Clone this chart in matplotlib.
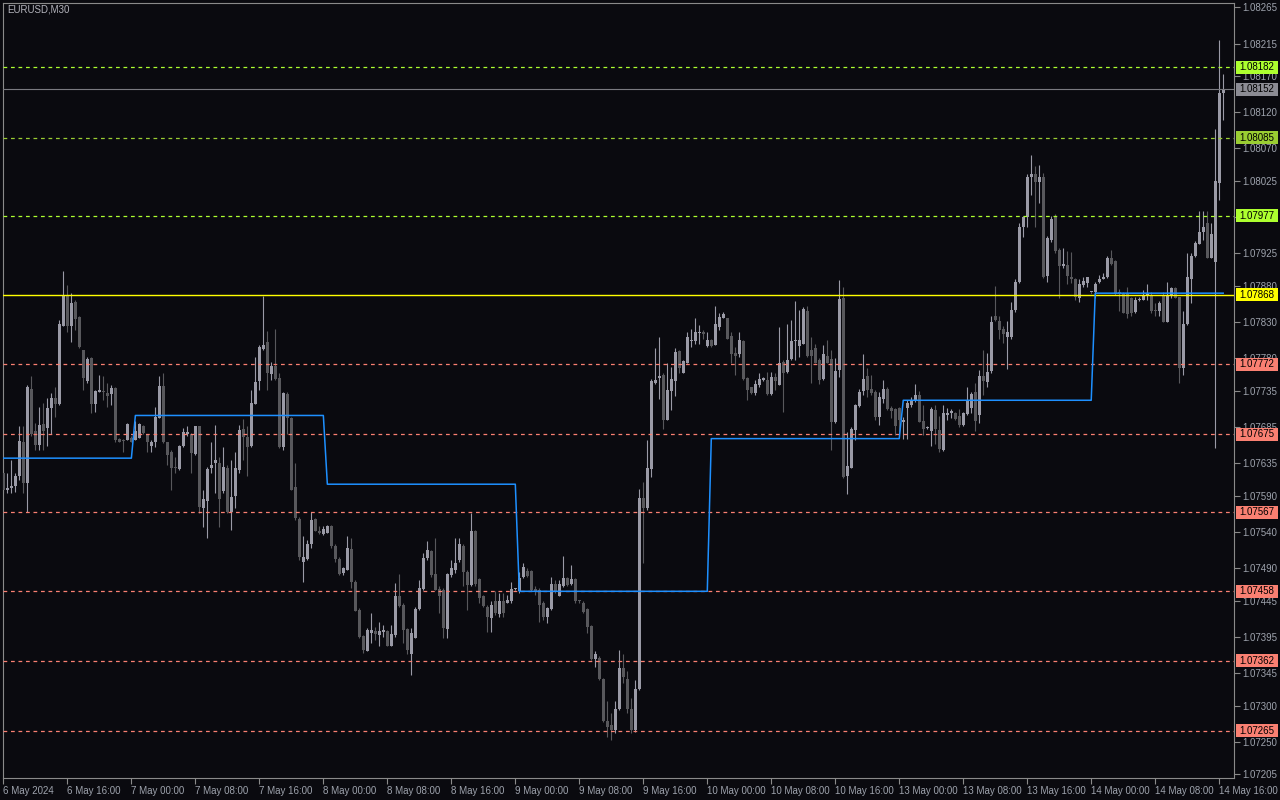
import numpy as np
import matplotlib
matplotlib.use('Agg')
import matplotlib.pyplot as plt
from matplotlib.patches import Rectangle
from matplotlib.transforms import blended_transform_factory

symbol = 'EURUSD,M30'

# M30 bars from 6 May 2024 08:00 to 14 May 2024 16:30 (prices)
opens = [
    1.07621, 1.07598, 1.07601, 1.07603, 1.07617, 1.07665, 1.07608, 1.07738, 1.07679, 1.07660,
    1.07689, 1.07684, 1.07711, 1.07725, 1.07717, 1.07824, 1.07867, 1.07825, 1.07858, 1.07837,
    1.07792, 1.07749, 1.07780, 1.07717, 1.07734, 1.07735, 1.07732, 1.07730, 1.07739, 1.07669,
    1.07667, 1.07667, 1.07670, 1.07667, 1.07670, 1.07687, 1.07676, 1.07659, 1.07664, 1.07698,
    1.07742, 1.07664, 1.07650, 1.07630, 1.07627, 1.07659, 1.07675, 1.07676, 1.07648, 1.07686,
    1.07573, 1.07583, 1.07629, 1.07635, 1.07635, 1.07597, 1.07629, 1.07568, 1.07590, 1.07625,
    1.07682, 1.07671, 1.07659, 1.07717, 1.07749, 1.07793, 1.07803, 1.07758, 1.07770, 1.07753,
    1.07657, 1.07731, 1.07698, 1.07602, 1.07558, 1.07499, 1.07503, 1.07524, 1.07558, 1.07542,
    1.07537, 1.07539, 1.07548, 1.07521, 1.07503, 1.07483, 1.07488, 1.07517, 1.07471, 1.07432,
    1.07396, 1.07376, 1.07401, 1.07403, 1.07398, 1.07402, 1.07403, 1.07383, 1.07398, 1.07451,
    1.07439, 1.07406, 1.07372, 1.07394, 1.07434, 1.07461, 1.07504, 1.07514, 1.07482, 1.07461,
    1.07460, 1.07406, 1.07481, 1.07487, 1.07501, 1.07520, 1.07484, 1.07467, 1.07541, 1.07475,
    1.07451, 1.07436, 1.07421, 1.07444, 1.07427, 1.07444, 1.07442, 1.07444, 1.07461, 1.07458,
    1.07478, 1.07486, 1.07486, 1.07461, 1.07460, 1.07442, 1.07423, 1.07434, 1.07468, 1.07452,
    1.07465, 1.07476, 1.07468, 1.07475, 1.07445, 1.07442, 1.07433, 1.07410, 1.07365, 1.07366,
    1.07337, 1.07279, 1.07273, 1.07266, 1.07295, 1.07352, 1.07337, 1.07295, 1.07266, 1.07323,
    1.07587, 1.07573, 1.07627, 1.07746, 1.07753, 1.07757, 1.07695, 1.07735, 1.07748, 1.07790,
    1.07760, 1.07774, 1.07804, 1.07804, 1.07815, 1.07817, 1.07797, 1.07805, 1.07798, 1.07823,
    1.07836, 1.07835, 1.07811, 1.07788, 1.07786, 1.07804, 1.07753, 1.07740, 1.07732, 1.07743,
    1.07750, 1.07750, 1.07730, 1.07754, 1.07743, 1.07775, 1.07761, 1.07779, 1.07804, 1.07797,
    1.07800, 1.07845, 1.07792, 1.07794, 1.07777, 1.07751, 1.07783, 1.07779, 1.07692, 1.07764,
    1.07864, 1.07618, 1.07629, 1.07681, 1.07714, 1.07735, 1.07755, 1.07737, 1.07733, 1.07699,
    1.07724, 1.07738, 1.07711, 1.07710, 1.07711, 1.07692, 1.07711, 1.07715, 1.07721, 1.07729,
    1.07693, 1.07683, 1.07680, 1.07708, 1.07681, 1.07653, 1.07702, 1.07704, 1.07705, 1.07700,
    1.07688, 1.07703, 1.07712, 1.07734, 1.07702, 1.07756, 1.07747, 1.07762, 1.07839, 1.07832,
    1.07821, 1.07809, 1.07809, 1.07847, 1.07885, 1.07961, 1.07975, 1.08030, 1.08035, 1.08023,
    1.08031, 1.07894, 1.07944, 1.07975, 1.07930, 1.07907, 1.07909, 1.07893, 1.07889, 1.07864,
    1.07881, 1.07884, 1.07871, 1.07871, 1.07885, 1.07889, 1.07892, 1.07919, 1.07915, 1.07872,
    1.07869, 1.07869, 1.07863, 1.07844, 1.07860, 1.07861, 1.07867, 1.07868, 1.07847, 1.07846,
    1.07868, 1.07830, 1.07868, 1.07877, 1.07865, 1.07767, 1.07828, 1.07890, 1.07921, 1.07938,
    1.07955, 1.07967, 1.07919, 1.07913, 1.08022, 1.08147,
]
highs = [
    1.07640, 1.07621, 1.07640, 1.07621, 1.07687, 1.07687, 1.07743, 1.07755, 1.07690, 1.07713,
    1.07718, 1.07725, 1.07732, 1.07741, 1.07833, 1.07901, 1.07881, 1.07870, 1.07861, 1.07839,
    1.07792, 1.07782, 1.07782, 1.07736, 1.07757, 1.07755, 1.07746, 1.07743, 1.07741, 1.07670,
    1.07668, 1.07690, 1.07672, 1.07693, 1.07690, 1.07688, 1.07676, 1.07667, 1.07713, 1.07755,
    1.07759, 1.07664, 1.07653, 1.07644, 1.07660, 1.07683, 1.07686, 1.07677, 1.07687, 1.07687,
    1.07598, 1.07630, 1.07665, 1.07688, 1.07644, 1.07658, 1.07633, 1.07640, 1.07651, 1.07688,
    1.07696, 1.07686, 1.07736, 1.07782, 1.07799, 1.07866, 1.07818, 1.07775, 1.07821, 1.07759,
    1.07734, 1.07734, 1.07699, 1.07635, 1.07560, 1.07534, 1.07529, 1.07568, 1.07559, 1.07548,
    1.07548, 1.07550, 1.07550, 1.07524, 1.07505, 1.07492, 1.07534, 1.07531, 1.07474, 1.07435,
    1.07398, 1.07407, 1.07428, 1.07409, 1.07416, 1.07412, 1.07405, 1.07412, 1.07469, 1.07482,
    1.07442, 1.07407, 1.07407, 1.07437, 1.07474, 1.07511, 1.07527, 1.07515, 1.07531, 1.07465,
    1.07462, 1.07483, 1.07501, 1.07531, 1.07531, 1.07524, 1.07488, 1.07566, 1.07543, 1.07476,
    1.07453, 1.07439, 1.07444, 1.07458, 1.07455, 1.07455, 1.07453, 1.07471, 1.07463, 1.07485,
    1.07497, 1.07490, 1.07488, 1.07465, 1.07462, 1.07444, 1.07437, 1.07478, 1.07474, 1.07474,
    1.07507, 1.07478, 1.07495, 1.07476, 1.07446, 1.07444, 1.07435, 1.07412, 1.07375, 1.07368,
    1.07338, 1.07306, 1.07290, 1.07307, 1.07377, 1.07372, 1.07348, 1.07310, 1.07336, 1.07600,
    1.07609, 1.07667, 1.07752, 1.07794, 1.07810, 1.07759, 1.07773, 1.07768, 1.07794, 1.07791,
    1.07777, 1.07817, 1.07820, 1.07835, 1.07826, 1.07819, 1.07817, 1.07806, 1.07852, 1.07842,
    1.07844, 1.07836, 1.07817, 1.07796, 1.07817, 1.07805, 1.07754, 1.07741, 1.07750, 1.07759,
    1.07754, 1.07761, 1.07761, 1.07759, 1.07823, 1.07777, 1.07828, 1.07833, 1.07859, 1.07847,
    1.07851, 1.07852, 1.07810, 1.07800, 1.07780, 1.07798, 1.07805, 1.07791, 1.07780, 1.07888,
    1.07879, 1.07678, 1.07685, 1.07717, 1.07737, 1.07786, 1.07766, 1.07757, 1.07736, 1.07734,
    1.07750, 1.07741, 1.07714, 1.07711, 1.07713, 1.07699, 1.07722, 1.07727, 1.07744, 1.07735,
    1.07715, 1.07686, 1.07713, 1.07715, 1.07700, 1.07715, 1.07711, 1.07710, 1.07706, 1.07710,
    1.07706, 1.07740, 1.07733, 1.07746, 1.07764, 1.07792, 1.07787, 1.07838, 1.07880, 1.07838,
    1.07824, 1.07831, 1.07858, 1.07889, 1.07967, 1.07976, 1.08035, 1.08061, 1.08046, 1.08047,
    1.08036, 1.07949, 1.07976, 1.07980, 1.07932, 1.07932, 1.07928, 1.07927, 1.07891, 1.07889,
    1.07892, 1.07893, 1.07872, 1.07886, 1.07895, 1.07898, 1.07922, 1.07929, 1.07916, 1.07876,
    1.07872, 1.07878, 1.07865, 1.07865, 1.07865, 1.07875, 1.07882, 1.07872, 1.07856, 1.07859,
    1.07872, 1.07885, 1.07879, 1.07879, 1.07865, 1.07846, 1.07925, 1.07925, 1.07942, 1.07983,
    1.07983, 1.07983, 1.07967, 1.08097, 1.08220, 1.08173,
]
lows = [
    1.07594, 1.07594, 1.07594, 1.07595, 1.07612, 1.07594, 1.07568, 1.07672, 1.07653, 1.07653,
    1.07653, 1.07659, 1.07676, 1.07699, 1.07715, 1.07824, 1.07817, 1.07803, 1.07819, 1.07794,
    1.07736, 1.07746, 1.07704, 1.07706, 1.07733, 1.07723, 1.07713, 1.07716, 1.07665, 1.07664,
    1.07651, 1.07667, 1.07664, 1.07667, 1.07670, 1.07676, 1.07651, 1.07651, 1.07658, 1.07697,
    1.07663, 1.07633, 1.07598, 1.07621, 1.07626, 1.07658, 1.07672, 1.07621, 1.07646, 1.07566,
    1.07547, 1.07531, 1.07621, 1.07594, 1.07547, 1.07594, 1.07566, 1.07543, 1.07573, 1.07621,
    1.07640, 1.07617, 1.07658, 1.07717, 1.07736, 1.07792, 1.07736, 1.07750, 1.07750, 1.07656,
    1.07653, 1.07676, 1.07598, 1.07557, 1.07501, 1.07471, 1.07501, 1.07518, 1.07541, 1.07537,
    1.07536, 1.07538, 1.07518, 1.07499, 1.07481, 1.07481, 1.07487, 1.07462, 1.07431, 1.07393,
    1.07373, 1.07375, 1.07386, 1.07391, 1.07382, 1.07395, 1.07382, 1.07382, 1.07395, 1.07437,
    1.07386, 1.07372, 1.07342, 1.07393, 1.07432, 1.07460, 1.07501, 1.07478, 1.07460, 1.07428,
    1.07393, 1.07393, 1.07478, 1.07483, 1.07499, 1.07465, 1.07432, 1.07465, 1.07465, 1.07442,
    1.07437, 1.07402, 1.07402, 1.07425, 1.07423, 1.07423, 1.07442, 1.07442, 1.07460, 1.07455,
    1.07477, 1.07478, 1.07459, 1.07453, 1.07416, 1.07418, 1.07414, 1.07432, 1.07455, 1.07451,
    1.07464, 1.07465, 1.07467, 1.07442, 1.07442, 1.07428, 1.07400, 1.07363, 1.07354, 1.07336,
    1.07278, 1.07257, 1.07253, 1.07262, 1.07294, 1.07331, 1.07290, 1.07262, 1.07264, 1.07322,
    1.07497, 1.07570, 1.07616, 1.07745, 1.07724, 1.07682, 1.07695, 1.07708, 1.07728, 1.07759,
    1.07759, 1.07773, 1.07796, 1.07800, 1.07800, 1.07807, 1.07796, 1.07796, 1.07798, 1.07819,
    1.07835, 1.07806, 1.07773, 1.07757, 1.07782, 1.07750, 1.07722, 1.07731, 1.07729, 1.07741,
    1.07749, 1.07729, 1.07729, 1.07736, 1.07743, 1.07706, 1.07759, 1.07777, 1.07777, 1.07782,
    1.07800, 1.07782, 1.07746, 1.07773, 1.07745, 1.07750, 1.07773, 1.07653, 1.07690, 1.07754,
    1.07614, 1.07593, 1.07628, 1.07667, 1.07713, 1.07729, 1.07727, 1.07729, 1.07695, 1.07688,
    1.07718, 1.07708, 1.07697, 1.07674, 1.07678, 1.07669, 1.07669, 1.07713, 1.07720, 1.07692,
    1.07674, 1.07682, 1.07659, 1.07662, 1.07651, 1.07652, 1.07695, 1.07697, 1.07695, 1.07685,
    1.07686, 1.07702, 1.07704, 1.07679, 1.07690, 1.07729, 1.07741, 1.07760, 1.07831, 1.07806,
    1.07801, 1.07765, 1.07806, 1.07844, 1.07884, 1.07948, 1.07961, 1.08006, 1.07962, 1.07995,
    1.07891, 1.07885, 1.07941, 1.07925, 1.07863, 1.07905, 1.07882, 1.07884, 1.07860, 1.07858,
    1.07879, 1.07879, 1.07870, 1.07863, 1.07884, 1.07889, 1.07891, 1.07909, 1.07868, 1.07845,
    1.07842, 1.07835, 1.07838, 1.07842, 1.07859, 1.07860, 1.07861, 1.07843, 1.07838, 1.07838,
    1.07830, 1.07830, 1.07863, 1.07863, 1.07746, 1.07757, 1.07826, 1.07856, 1.07920, 1.07938,
    1.07944, 1.07918, 1.07918, 1.07656, 1.07999, 1.08110,
]
closes = [
    1.07598, 1.07601, 1.07604, 1.07617, 1.07666, 1.07608, 1.07741, 1.07676, 1.07660, 1.07688,
    1.07679, 1.07712, 1.07725, 1.07717, 1.07828, 1.07867, 1.07824, 1.07857, 1.07834, 1.07795,
    1.07753, 1.07779, 1.07717, 1.07735, 1.07736, 1.07733, 1.07728, 1.07739, 1.07667, 1.07665,
    1.07666, 1.07689, 1.07665, 1.07679, 1.07689, 1.07677, 1.07664, 1.07664, 1.07699, 1.07742,
    1.07664, 1.07646, 1.07628, 1.07629, 1.07659, 1.07678, 1.07678, 1.07649, 1.07686, 1.07575,
    1.07586, 1.07627, 1.07632, 1.07640, 1.07586, 1.07630, 1.07568, 1.07588, 1.07628, 1.07681,
    1.07671, 1.07658, 1.07718, 1.07747, 1.07795, 1.07799, 1.07760, 1.07770, 1.07752, 1.07657,
    1.07732, 1.07698, 1.07598, 1.07559, 1.07506, 1.07506, 1.07523, 1.07557, 1.07542, 1.07539,
    1.07544, 1.07548, 1.07521, 1.07503, 1.07482, 1.07490, 1.07518, 1.07471, 1.07431, 1.07395,
    1.07377, 1.07405, 1.07404, 1.07399, 1.07403, 1.07405, 1.07383, 1.07399, 1.07451, 1.07438,
    1.07405, 1.07377, 1.07400, 1.07434, 1.07463, 1.07504, 1.07515, 1.07481, 1.07460, 1.07452,
    1.07407, 1.07482, 1.07490, 1.07497, 1.07523, 1.07484, 1.07467, 1.07541, 1.07468, 1.07449,
    1.07438, 1.07422, 1.07439, 1.07428, 1.07444, 1.07428, 1.07446, 1.07461, 1.07462, 1.07476,
    1.07491, 1.07479, 1.07460, 1.07459, 1.07439, 1.07422, 1.07435, 1.07468, 1.07458, 1.07468,
    1.07476, 1.07467, 1.07475, 1.07444, 1.07444, 1.07429, 1.07409, 1.07365, 1.07372, 1.07337,
    1.07279, 1.07271, 1.07266, 1.07296, 1.07352, 1.07339, 1.07295, 1.07266, 1.07323, 1.07587,
    1.07573, 1.07628, 1.07748, 1.07750, 1.07756, 1.07695, 1.07736, 1.07751, 1.07789, 1.07766,
    1.07776, 1.07809, 1.07805, 1.07817, 1.07817, 1.07813, 1.07805, 1.07797, 1.07827, 1.07837,
    1.07841, 1.07807, 1.07786, 1.07783, 1.07805, 1.07752, 1.07736, 1.07732, 1.07744, 1.07751,
    1.07753, 1.07730, 1.07754, 1.07748, 1.07773, 1.07760, 1.07777, 1.07804, 1.07805, 1.07805,
    1.07848, 1.07783, 1.07783, 1.07774, 1.07750, 1.07786, 1.07774, 1.07692, 1.07762, 1.07862,
    1.07616, 1.07631, 1.07682, 1.07715, 1.07734, 1.07751, 1.07736, 1.07732, 1.07699, 1.07727,
    1.07737, 1.07710, 1.07707, 1.07687, 1.07695, 1.07695, 1.07718, 1.07721, 1.07729, 1.07692,
    1.07682, 1.07685, 1.07710, 1.07682, 1.07654, 1.07704, 1.07705, 1.07707, 1.07696, 1.07688,
    1.07705, 1.07723, 1.07730, 1.07693, 1.07756, 1.07748, 1.07761, 1.07830, 1.07833, 1.07819,
    1.07814, 1.07817, 1.07847, 1.07886, 1.07961, 1.07975, 1.08030, 1.08034, 1.08024, 1.08031,
    1.07893, 1.07946, 1.07973, 1.07928, 1.07907, 1.07911, 1.07894, 1.07889, 1.07865, 1.07882,
    1.07887, 1.07892, 1.07872, 1.07883, 1.07890, 1.07892, 1.07919, 1.07911, 1.07869, 1.07869,
    1.07843, 1.07841, 1.07842, 1.07860, 1.07861, 1.07867, 1.07869, 1.07845, 1.07846, 1.07857,
    1.07830, 1.07867, 1.07877, 1.07864, 1.07766, 1.07828, 1.07893, 1.07922, 1.07940, 1.07955,
    1.07961, 1.07918, 1.07952, 1.08025, 1.08147, 1.08152,
]

time_labels = ['6 May 2024', '6 May 16:00', '7 May 00:00', '7 May 08:00', '7 May 16:00',
               '8 May 00:00', '8 May 08:00', '8 May 16:00', '9 May 00:00', '9 May 08:00',
               '9 May 16:00', '10 May 00:00', '10 May 08:00', '10 May 16:00', '13 May 00:00',
               '13 May 08:00', '13 May 16:00', '14 May 00:00', '14 May 08:00', '14 May 16:00']
bars_per_label = 16

price_ticks = [1.08265, 1.08215, 1.08170, 1.08120, 1.08070, 1.08025, 1.07975, 1.07925,
               1.07880, 1.07830, 1.07780, 1.07735, 1.07685, 1.07635, 1.07590, 1.07540,
               1.07490, 1.07445, 1.07395, 1.07345, 1.07300, 1.07250, 1.07205]

# daily level (blue step line): first bar index of each day and its level
day_starts = [0, 32, 80, 128, 176, 224, 272]
day_levels = [1.07642, 1.07701, 1.07606, 1.07458, 1.07669, 1.07722, 1.07870]

upper_levels = [1.08182, 1.08085, 1.07977]
upper_colors = ['#adff2f', '#9acd32', '#adff2f']
lower_levels = [1.07772, 1.07675, 1.07567, 1.07458, 1.07362, 1.07265]
pivot_level = 1.07868
bid_price = 1.08152

BG = '#0a0a0f'
UP = '#9a9aa6'
DOWN = '#58585c'
FRAME = '#8a8a8a'
TEXT = '#9ea3ad'
SALMON = '#fa8072'

plt.rcParams['font.family'] = ['Liberation Sans', 'DejaVu Sans']

fig = plt.figure(figsize=(12.8, 8), dpi=100, facecolor=BG)
ax = fig.add_axes([3 / 1280, 22 / 800, 1231 / 1280, 775 / 800], facecolor=BG)

o = np.array(opens)
h = np.array(highs)
l = np.array(lows)
c = np.array(closes)
x = np.arange(len(o))
h = np.maximum(h, np.maximum(o, c))
l = np.minimum(l, np.minimum(o, c))
cols = np.where(c >= o, UP, DOWN)
body_lo = np.minimum(o, c)
body_h = np.maximum(np.abs(c - o), 0.000014)

ax.vlines(x, l, h, colors=cols, lw=0.8, zorder=2)
ax.bar(x, body_h, bottom=body_lo, width=0.72, color=cols, linewidth=0, zorder=3)

# horizontal levels
for lv, col in zip(upper_levels, upper_colors):
    ax.axhline(lv, color=col, lw=0.9, ls=(0, (3, 3)), zorder=4)
for lv in lower_levels:
    ax.axhline(lv, color=SALMON, lw=0.9, ls=(0, (3, 3)), zorder=4)
ax.axhline(pivot_level, color='#ffff00', lw=1.0, zorder=4)
ax.axhline(bid_price, color='#7a7a80', lw=0.8, zorder=4)

# blue daily step line
ends = day_starts[1:] + [len(o) - 1]
bx, by = [], []
for k, (s, e, lv) in enumerate(zip(day_starts, ends, day_levels)):
    bx += [s + (1 if k else 0), e]
    by += [lv, lv]
ax.plot(bx, by, color='#1e90ff', lw=1.1, zorder=5)

ax.set_xlim(-0.1, 307.7)
ax.set_ylim(1.07200, 1.08271)

# scale labels that sit fully under a price tag are not shown on the chart
covered = [1.07975]
ax.yaxis.tick_right()
ax.set_yticks(price_ticks)
ax.set_yticklabels(['' if p in covered else f'{p:.5f}' for p in price_ticks])
ax.tick_params(axis='y', colors=FRAME, labelcolor=TEXT, length=4, width=0.8,
               pad=2, labelsize=7)

xt = np.arange(len(time_labels)) * bars_per_label
ax.set_xticks(xt)
ax.set_xticklabels(time_labels, ha='left')
ax.tick_params(axis='x', colors=FRAME, labelcolor=TEXT, length=4, width=0.8,
               pad=1.5, labelsize=7)

for s in ax.spines.values():
    s.set_color(FRAME)
    s.set_linewidth(0.8)

# price tags on the right scale
trans = blended_transform_factory(ax.transAxes, ax.transData)
half = 6.5 * (1.08271 - 1.07200) / 775


def price_tag(p, fc):
    ax.add_patch(Rectangle((1.0016, p - half), 0.0341, 2 * half, transform=trans,
                           facecolor=fc, edgecolor='none', clip_on=False, zorder=10))
    ax.text(1.0187, p, f'{p:.5f}', transform=trans, ha='center', va='center',
            fontsize=7, color='black', clip_on=False, zorder=11)


for lv, col in zip(upper_levels, upper_colors):
    price_tag(lv, col)
for lv in lower_levels:
    price_tag(lv, SALMON)
price_tag(pivot_level, '#ffff00')
price_tag(bid_price, '#8c8c94')

fig.text(7 / 1280, 1 - 10 / 800, symbol, fontsize=7, color='#b4b4bc',
         ha='left', va='center')

fig.savefig('out.png', dpi=100, facecolor=BG)
